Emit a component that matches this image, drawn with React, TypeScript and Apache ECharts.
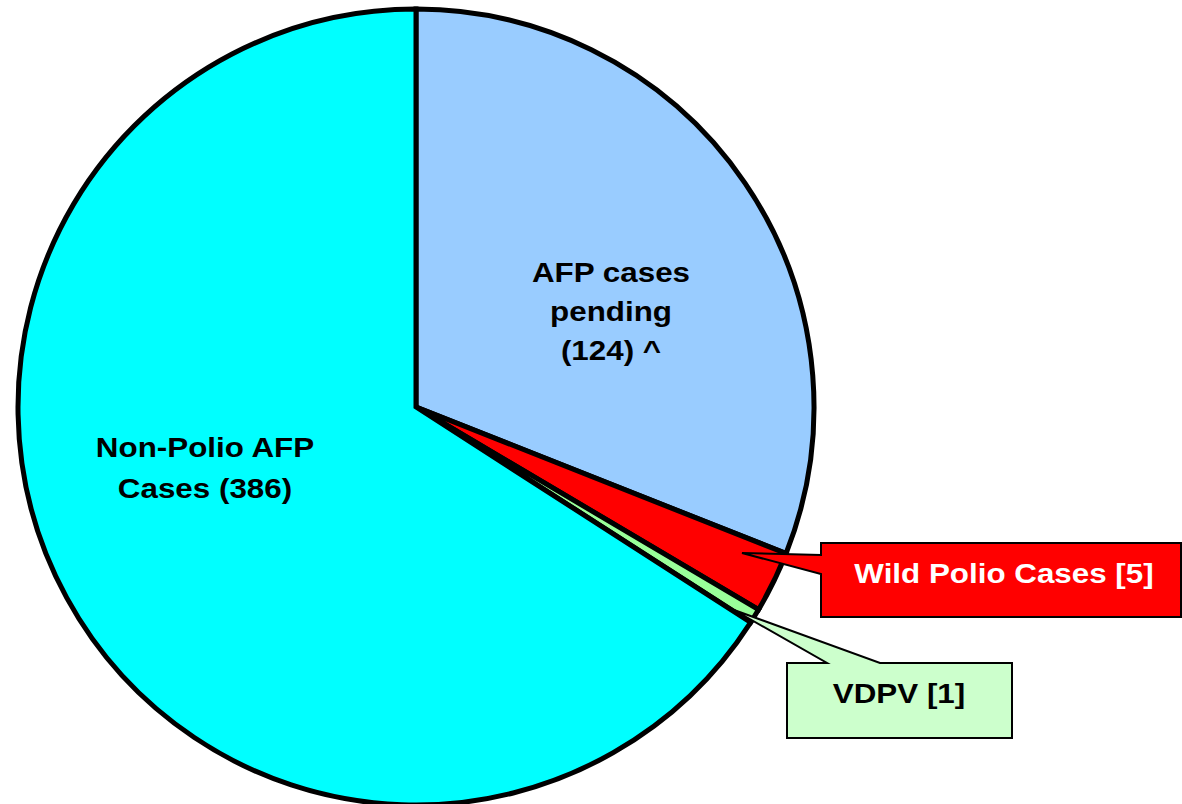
import React, { useEffect, useRef } from "react";
import * as echarts from "echarts";

const categories = ["AFP cases pending", "Wild Polio Cases", "VDPV", "Non-Polio AFP Cases"];
const caseCounts = [124, 5, 1, 386];
// share of the circle each slice occupies in the picture (percent)
const sliceShares = [31.0, 2.5, 0.6, 65.9];
const sliceColors = ["#99ccff", "#ff0000", "#99ff99", "#00ffff"];

const FONT = '"Liberation Sans", Arial, sans-serif';

export default function App() {
  const ref = useRef<HTMLDivElement>(null);
  useEffect(() => {
    if (!ref.current) return;
    const chart = echarts.init(ref.current, undefined, { renderer: "svg" });
    const textStyle = (text: string, x: number, y: number, fill: string, lh: number) => ({
      type: "text",
      x,
      y,
      z: 100,
      scaleX: 1.12,
      style: {
        text,
        fill,
        fontSize: 28,
        fontWeight: "bold",
        fontFamily: FONT,
        align: "center",
        verticalAlign: "middle",
        lineHeight: lh,
      },
    });
    chart.setOption({
      animation: false,
      backgroundColor: "#ffffff",
      series: [
        {
          type: "pie",
          center: [416, 407],
          radius: [0, 398],
          startAngle: 90,
          clockwise: true,
          silent: true,
          label: { show: false },
          labelLine: { show: false },
          itemStyle: { borderColor: "#000000", borderWidth: 5, borderJoin: "miter" },
          data: categories.map((name, i) => ({
            name,
            value: sliceShares[i],
            itemStyle: { color: sliceColors[i] },
          })),
        },
      ],
      graphic: [
        textStyle(`AFP cases\npending\n(${caseCounts[0]}) ^`, 611, 311, "#000000", 39),
        textStyle(`Non-Polio AFP\nCases (${caseCounts[3]})`, 205, 468, "#000000", 41),
        {
          type: "polygon",
          z: 90,
          shape: {
            points: [
              [821, 543],
              [1181, 543],
              [1181, 617],
              [821, 617],
              [821, 574],
              [742, 553],
              [821, 555],
            ],
          },
          style: { fill: "#ff0000", stroke: "#000000", lineWidth: 2 },
        },
        textStyle(`${categories[1]} [${caseCounts[1]}]`, 1004, 573, "#ffffff", 30),
        {
          type: "polygon",
          z: 90,
          shape: {
            points: [
              [787, 663],
              [827, 663],
              [734, 610],
              [880, 663],
              [1012, 663],
              [1012, 738],
              [787, 738],
            ],
          },
          style: { fill: "#ccffcc", stroke: "#000000", lineWidth: 2 },
        },
        textStyle(`${categories[2]} [${caseCounts[2]}]`, 899, 693, "#000000", 30),
      ],
    });
    return () => chart.dispose();
  }, []);
  return (
    <div
      ref={ref}
      style={{ position: "fixed", left: 0, top: 0, width: 1182, height: 804 }}
    />
  );
}
